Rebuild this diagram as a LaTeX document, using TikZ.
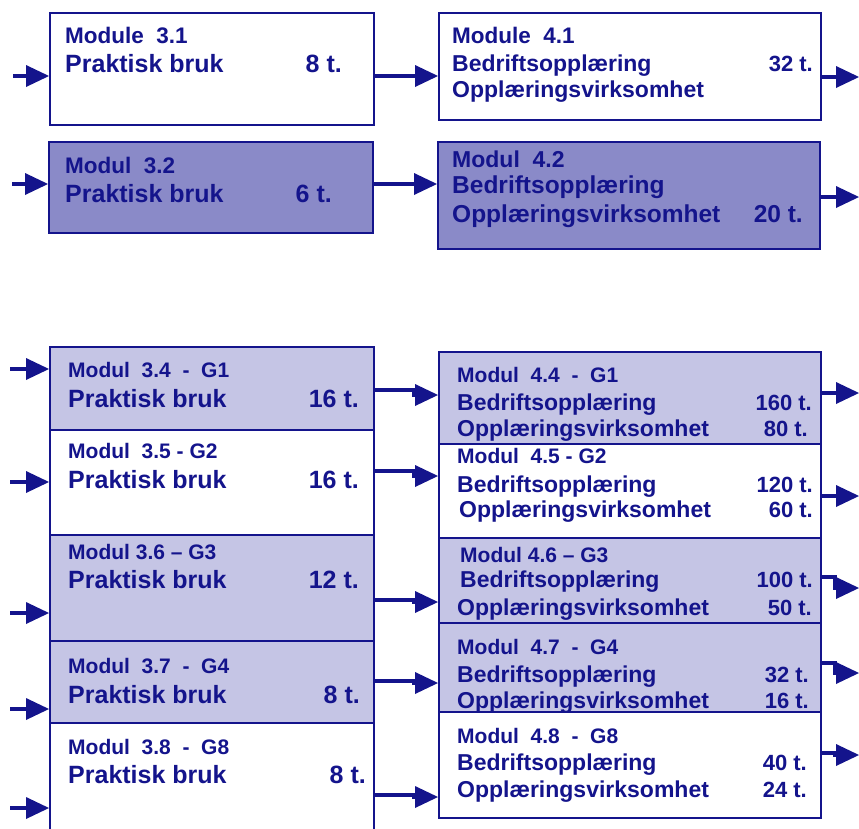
\documentclass[tikz,border=0pt]{standalone}
\usepackage{fontspec}
\setmainfont{Liberation Sans}
\usetikzlibrary{arrows.meta,calc}
\definecolor{tc}{RGB}{20,20,140}
\definecolor{dk}{RGB}{138,138,200}
\definecolor{lt}{RGB}{197,197,229}
\begin{document}
\begin{tikzpicture}[x=1pt,y=-1pt,
  box/.style={draw=tc, line width=2pt, anchor=north west, inner sep=0pt},
  lbl/.style={inner sep=0pt, text=tc, anchor=base west},
  num/.style={inner sep=0pt, text=tc, anchor=base east},
  hA/.style={font=\bfseries\fontsize{22.5}{27}\selectfont},
  hB/.style={font=\bfseries\fontsize{21}{25}\selectfont},
  pA/.style={font=\bfseries\fontsize{25}{30}\selectfont},
  bA/.style={font=\bfseries\fontsize{23}{28}\selectfont},
  bB/.style={font=\bfseries\fontsize{24.5}{29}\selectfont},
  nB/.style={font=\bfseries\fontsize{22}{26}\selectfont},
  arr/.style={draw=tc, line width=4pt, line join=miter,
    -{Triangle[length=23pt,width=22pt,line width=0pt]}}]
\useasboundingbox (0,0) rectangle (859,828);
\clip (0,0) rectangle (859,828);

% ---------- top section ----------
\node[box, fill=white, minimum width=324pt, minimum height=112pt] (b31) at (49,12) {};
\node[lbl,hA] (t31a) at (65,43) {Module\ \ 3.1};
\node[lbl,pA] (t31b) at (65,72) {Praktisk bruk};
\node[num,pA] (n31) at (342,72) {8 t.};

\node[box, fill=dk, minimum width=324pt, minimum height=91pt] (b32) at (48,141) {};
\node[lbl,hA] (t32a) at (65,173) {Modul\ \ 3.2};
\node[lbl,pA] (t32b) at (65,202) {Praktisk bruk};
\node[num,pA] (n32) at (332,202) {6 t.};

\node[box, fill=white, minimum width=382pt, minimum height=107pt] (b41) at (438,12) {};
\node[lbl,hA] (t41a) at (452,43) {Module\ \ 4.1};
\node[lbl,bA] (t41b) at (452,71) {Bedriftsopplæring};
\node[num,nB] (n41) at (813,71) {32 t.};
\node[lbl,bA] (t41c) at (452,97) {Opplæringsvirksomhet};

\node[box, fill=dk, minimum width=382pt, minimum height=107pt] (b42) at (437,141) {};
\node[lbl,bA] (t42a) at (452,167) {Modul\ \ 4.2};
\node[lbl,bB] (t42b) at (452,193) {Bedriftsopplæring};
\node[lbl,bB] (t42c) at (452,222) {Opplæringsvirksomhet};
\node[num,bB] (n42) at (803,222) {20 t.};

% ---------- lower left column ----------
\node[box, fill=lt, minimum width=324pt, minimum height=83pt] (b34) at (49,346) {};
\node[lbl,hB] (t34a) at (68,377) {Modul\ \ 3.4\ \ -\ \ G1};
\node[lbl,pA] (t34b) at (68,407) {Praktisk bruk};
\node[num,pA] (n34) at (359,407) {16 t.};

\node[box, fill=white, minimum width=324pt, minimum height=105pt] (b35) at (49,429) {};
\node[lbl,hB] (t35a) at (68,458) {Modul\ \ 3.5\ -\ G2};
\node[lbl,pA] (t35b) at (68,488) {Praktisk bruk};
\node[num,pA] (n35) at (359,488) {16 t.};

\node[box, fill=lt, minimum width=324pt, minimum height=106pt] (b36) at (49,534) {};
\node[lbl,hB] (t36a) at (68,559) {Modul 3.6 – G3};
\node[lbl,pA] (t36b) at (68,588) {Praktisk bruk};
\node[num,pA] (n36) at (359,588) {12 t.};

\node[box, fill=lt, minimum width=324pt, minimum height=82pt] (b37) at (49,640) {};
\node[lbl,hB] (t37a) at (68,673) {Modul\ \ 3.7\ \ -\ \ G4};
\node[lbl,pA] (t37b) at (68,703) {Praktisk bruk};
\node[num,pA] (n37) at (360,703) {8 t.};

\node[box, fill=white, minimum width=324pt, minimum height=130pt] (b38) at (49,722) {};
\node[lbl,hB] (t38a) at (68,754) {Modul\ \ 3.8\ \ -\ \ G8};
\node[lbl,pA] (t38b) at (68,783) {Praktisk bruk};
\node[num,pA] (n38) at (366,783) {8 t.};

% ---------- lower right column ----------
\node[box, fill=lt, minimum width=382pt, minimum height=92pt] (b44) at (438,351) {};
\node[lbl,hB] (t44a) at (457,382) {Modul\ \ 4.4\ \ -\ \ G1};
\node[lbl,bA] (t44b) at (457,410) {Bedriftsopplæring};
\node[num,nB] (n44b) at (812,410) {160 t.};
\node[lbl,bA] (t44c) at (457,436) {Opplæringsvirksomhet};
\node[num,nB] (n44c) at (808,436) {80 t.};

\node[box, fill=white, minimum width=382pt, minimum height=94pt] (b45) at (438,443) {};
\node[lbl,hB] (t45a) at (457,463) {Modul\ \ 4.5\ -\ G2};
\node[lbl,bA] (t45b) at (457,492) {Bedriftsopplæring};
\node[num,nB] (n45b) at (813,492) {120 t.};
\node[lbl,bA] (t45c) at (459,517) {Opplæringsvirksomhet};
\node[num,nB] (n45c) at (813,517) {60 t.};

\node[box, fill=lt, minimum width=382pt, minimum height=85pt] (b46) at (438,537) {};
\node[lbl,hB] (t46a) at (460,562) {Modul 4.6 – G3};
\node[lbl,bA] (t46b) at (460,587) {Bedriftsopplæring};
\node[num,nB] (n46b) at (813,587) {100 t.};
\node[lbl,bA] (t46c) at (457,615) {Opplæringsvirksomhet};
\node[num,nB] (n46c) at (812,615) {50 t.};

\node[box, fill=lt, minimum width=382pt, minimum height=89pt] (b47) at (438,622) {};
\node[lbl,hB] (t47a) at (457,654) {Modul\ \ 4.7\ \ -\ \ G4};
\node[lbl,bA] (t47b) at (457,682) {Bedriftsopplæring};
\node[num,nB] (n47b) at (809,682) {32 t.};
\node[lbl,bA] (t47c) at (457,708) {Opplæringsvirksomhet};
\node[num,nB] (n47c) at (809,708) {16 t.};

\node[box, fill=white, minimum width=382pt, minimum height=106pt] (b48) at (438,711) {};
\node[lbl,hB] (t48a) at (457,743) {Modul\ \ 4.8\ \ -\ \ G8};
\node[lbl,bA] (t48b) at (457,770) {Bedriftsopplæring};
\node[num,nB] (n48b) at (807,770) {40 t.};
\node[lbl,bA] (t48c) at (457,797) {Opplæringsvirksomhet};
\node[num,nB] (n48c) at (807,797) {24 t.};

% ---------- free ends ----------
\coordinate (i31) at (13,76);
\coordinate (i32) at (12,184);
\coordinate (o41) at (859,77);
\coordinate (o42) at (859,197);
\coordinate (i34) at (10,369);
\coordinate (i35) at (10,482);
\coordinate (i36) at (10,613);
\coordinate (i37) at (10,709);
\coordinate (i38) at (10,808);
\coordinate (o44) at (859,393);
\coordinate (o45) at (859,496);
\coordinate (o46) at (859,588);
\coordinate (o47) at (859,673);
\coordinate (o48) at (859,755);

% ---------- connectors: top ----------
\draw[arr] (i31) -- (b31.west |- i31);
\draw[arr] (i32) -- (b32.west |- i32);
\draw[arr] (b31.east |- 0,76) -- (b41.west |- 0,76);
\draw[arr] (b32.east |- 0,184) -- (b42.west |- 0,184);
\draw[arr] (b41.east |- o41) -- (o41);
\draw[arr] (b42.east |- o42) -- (o42);

% ---------- connectors: lower ----------
\draw[arr] (i34) -- (b34.west |- i34);
\draw[arr] (i35) -- (b35.west |- i35);
\draw[arr] (i36) -- (b36.west |- i36);
\draw[arr] (i37) -- (b37.west |- i37);
\draw[arr] (i38) -- (b38.west |- i38);

\draw[arr] (b34.east |- 0,390) -| ($(b44.west |- 0,395)+(-24,0)$) -- (b44.west |- 0,395);
\draw[arr] (b35.east |- 0,471) -| ($(b45.west |- 0,476)+(-24,0)$) -- (b45.west |- 0,476);
\draw[arr] (b36.east |- 0,600) -| ($(b46.west |- 0,602)+(-24,0)$) -- (b46.west |- 0,602);
\draw[arr] (b37.east |- 0,681) -| ($(b47.west |- 0,683)+(-24,0)$) -- (b47.west |- 0,683);
\draw[arr] (b38.east |- 0,795) -| ($(b48.west |- 0,797)+(-24,0)$) -- (b48.west |- 0,797);

\draw[arr] (b44.east |- o44) -- (o44);
\draw[arr] (b45.east |- o45) -- (o45);
\draw[arr] (b46.east |- 0,577) -| ($(o46)+(-24,0)$) -- (o46);
\draw[arr] (b47.east |- 0,663) -| ($(o47)+(-24,0)$) -- (o47);
\draw[arr] (b48.east |- 0,753) -| ($(o48)+(-24,0)$) -- (o48);
\end{tikzpicture}
\end{document}
